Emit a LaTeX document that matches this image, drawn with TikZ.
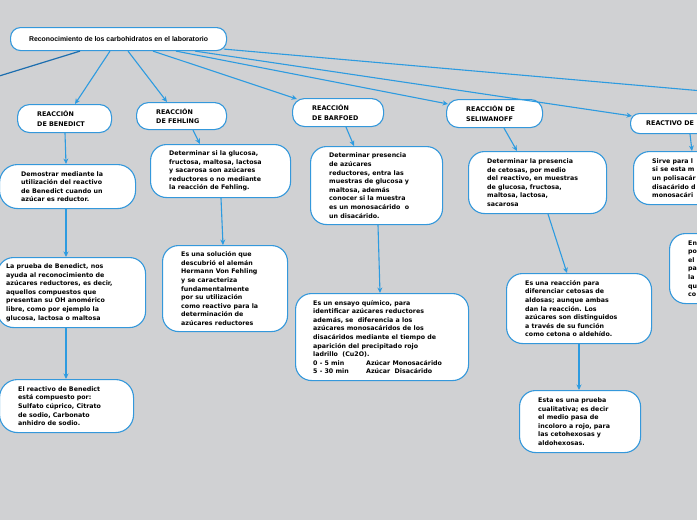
\documentclass[tikz,border=0pt]{standalone}
\usepackage{fontspec}
\setmainfont{DejaVu Sans}
\newfontfamily\rootf{Liberation Sans}
\usetikzlibrary{arrows.meta}
\definecolor{bggray}{HTML}{D0D1D3}
\definecolor{nodeblue}{HTML}{3498DB}
\definecolor{arrowblue}{HTML}{2D9BE0}
\definecolor{darkline}{HTML}{1C6EAF}
\tikzset{
  box/.style={draw=nodeblue, line width=1.1pt, fill=white, anchor=north west, inner sep=0pt},
  txt/.style={anchor=west, inner sep=0pt, align=left, font=\fontsize{6.3}{8.6}\selectfont\bfseries},
  hdr/.style={anchor=west, inner sep=0pt, align=left, font=\fontsize{6.4}{9.4}\selectfont\bfseries},
  conn/.style={draw=arrowblue, line width=1.1pt, -{Stealth[length=5.5pt,width=5pt]}},
  darkconn/.style={draw=darkline, line width=1.2pt}
}
% #1 name, #2 radius, #3 x, #4 y, #5 w, #6 h, #7 pad, #8 style, #9 text
\newcommand{\rbox}[9]{%
  \node[box, rounded corners=#2, minimum width=#5, minimum height=#6] (#1) at (#3,#4) {};
  \node[#8] (#1t) at ([xshift=#7]#1.west) {#9};}
\begin{document}
\begin{tikzpicture}[x=1pt,y=-1pt]
\useasboundingbox (0,0) rectangle (697,520);
\fill[bggray] (0,0) rectangle (697,520);
\clip (0,0) rectangle (697,520);
\coordinate (offL) at (-30,85);
\coordinate (offR) at (760,96);
% root
\node[box, rounded corners=10, minimum width=216, minimum height=23] (root) at (10,27) {};
\node[anchor=center, inner sep=0pt, font=\rootf\fontsize{6.9}{8}\selectfont\bfseries] (roott) at (root.center) {Reconocimiento de los carbohidratos en el laboratorio};
% headers
\rbox{ben}{12}{17}{104}{94}{28}{20}{hdr}{REACCIÓN\\DE BENEDICT}
\rbox{feh}{12}{136}{102}{90}{27}{20}{hdr}{REACCIÓN\\DE FEHLING}
\rbox{bar}{12}{292}{98}{91}{28}{20}{hdr}{REACCIÓN\\DE BARFOED}
\rbox{sel}{12}{446}{99}{96}{28}{20}{hdr}{REACCIÓN DE\\SELIWANOFF}
\rbox{rea}{9}{630}{113}{90}{20}{16}{hdr}{REACTIVO DE}
% benedict column
\rbox{ben2}{18}{-1}{164}{136}{44}{22}{txt}{Demostrar mediante la\\utilización del reactivo\\de Benedict cuando un\\azúcar es reductor.}
\rbox{ben3}{16}{-3}{257}{148}{70}{9}{txt}{La prueba de Benedict, nos\\ayuda al reconocimiento de\\azúcares reductores, es decir,\\aquellos compuestos que\\presentan su OH anomérico\\libre, como por ejemplo la\\glucosa, lactosa o maltosa}
\rbox{ben4}{18}{-1}{379}{134}{53}{19}{txt}{El reactivo de Benedict\\está compuesto por:\\Sulfato cúprico, Citrato\\de sodio, Carbonato\\anhidro de sodio.}
% fehling column
\rbox{feh2}{16}{150}{144}{140}{53}{19}{txt}{Determinar si la glucosa,\\fructosa, maltosa, lactosa\\y sacarosa son azúcares\\reductores o no mediante\\la reacción de Fehling.}
\rbox{feh3}{16}{162}{245}{125}{86}{19}{txt}{Es una solución que\\descubrió el alemán\\Hermann Von Fehling\\y se caracteriza\\fundamentalmente\\por su utilización\\como reactivo para la\\determinación de\\azúcares reductores}
% barfoed column
\rbox{bar2}{16}{310}{146}{132}{78}{19}{txt}{Determinar presencia\\de azúcares\\reductores, entra las\\muestras de glucosa y\\maltosa, además\\conocer si la muestra\\es un monosacárido\ \ o\\un disacárido.}
\rbox{bar3}{16}{295}{293}{173}{87}{18}{txt}{Es un ensayo químico, para\\identificar azúcares reductores\\además, se\ \ diferencia a los\\azúcares monosacáridos de los\\disacáridos mediante el tiempo de\\aparición del precipitado rojo\\ladrillo\ \ (Cu2O).\\\makebox[53pt][l]{0 - 5 min}Azúcar Monosacárido\\\makebox[53pt][l]{5 - 30 min}Azúcar\ \ Disacárido}
% seliwanoff column
\rbox{sel2}{16}{468}{151}{138}{62}{19}{txt}{Determinar la presencia\\de cetosas, por medio\\del reactivo, en muestras\\de glucosa, fructosa,\\maltosa, lactosa,\\sacarosa}
\rbox{sel3}{16}{506}{273}{145}{70}{19}{txt}{Es una reacción para\\diferenciar cetosas de\\aldosas; aunque ambas\\dan la reacción. Los\\azúcares son distinguidos\\a través de su función\\como cetona o aldehído.}
\rbox{sel4}{16}{519}{390}{121}{62}{19}{txt}{Esta es una prueba\\cualitativa; es decir\\el medio pasa de\\incoloro a rojo, para\\las cetohexosas y\\aldohexosas.}
% reactivo column
\rbox{rea2}{16}{633}{151}{97}{53}{19}{txt}{Sirve para l\\si se esta m\\un polisacár\\disacárido d\\monosacári}
\rbox{rea3}{16}{669}{233}{71}{70}{19}{txt}{En\\po\\el\\pa\\la\\qu\\co}
% connectors from root
\draw[darkconn] ([xshift=70]root.south west) -- (offL);
\draw[conn] ([xshift=100]root.south west) -- ([xshift=58]ben.north west);
\draw[conn] ([xshift=118]root.south west) -- ([xshift=31]feh.north west);
\draw[conn] ([xshift=143]root.south west) -- ([xshift=5,yshift=-1]bar.north west);
\draw[conn] ([xshift=166]root.south west) -- ([xshift=2,yshift=-5]sel.north west);
\draw[conn] ([xshift=185]root.south west) -- ([xshift=2,yshift=-3]rea.north west);
\draw[conn] ([xshift=214,yshift=2]root.south west) -- (offR);
% vertical connectors
\draw[conn] ([xshift=48]ben.south west) -- ([xshift=67]ben2.north west);
\draw[conn] ([xshift=67]ben2.south west) -- ([xshift=69]ben3.north west);
\draw[conn] ([xshift=69]ben3.south west) -- ([xshift=67]ben4.north west);
\draw[conn] ([xshift=57]feh.south west) -- ([xshift=50]feh2.north west);
\draw[conn] ([xshift=71]feh2.south west) -- ([xshift=61]feh3.north west);
\draw[conn] ([xshift=54]bar.south west) -- ([xshift=44]bar2.north west);
\draw[conn] ([xshift=68]bar2.south west) -- ([xshift=85]bar3.north west);
\draw[conn] ([xshift=58]sel.south west) -- ([xshift=49]sel2.north west);
\draw[conn] ([xshift=80]sel2.south west) -- ([xshift=61]sel3.north west);
\draw[conn] ([xshift=73]sel3.south west) -- ([xshift=60]sel4.north west);
\draw[conn] ([xshift=60]rea.south west) -- ([xshift=59]rea2.north west);
\end{tikzpicture}
\end{document}
